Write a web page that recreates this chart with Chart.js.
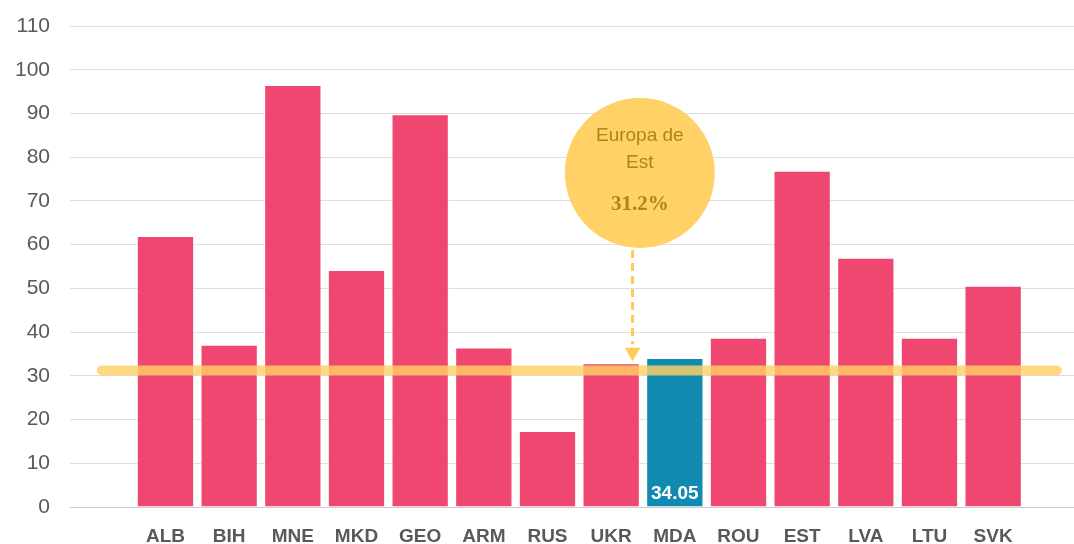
<!DOCTYPE html>
<html><head><meta charset="utf-8">
<script src="https://cdn.jsdelivr.net/npm/chart.js@4.4.0/dist/chart.umd.min.js"></script>
<style>html,body{margin:0;padding:0;background:#fff}#wrap{width:1074px;height:544px;position:relative}</style>
</head><body><div id="wrap"><canvas id="c" width="1074" height="544"></canvas></div>
<script>
// ---- data ----
const categories = ['ALB','BIH','MNE','MKD','GEO','ARM','RUS','UKR','MDA','ROU','EST','LVA','LTU','SVK'];
const values = [62.0, 37.1, 96.5, 54.2, 89.8, 36.5, 17.4, 32.9, 34.05, 38.7, 76.9, 57.0, 38.7, 50.6];
const highlightCategory = 'MDA';
const averageValue = 31.2;
const averageLines = ['Europa de', 'Est'];
const averageText = '31.2%';
const yTickValues = [0, 10, 20, 30, 40, 50, 60, 70, 80, 90, 100, 110];

// ---- annotation placement (data space) ----
const bubblePos = {x: 7.45, y: 76.4};
const arrowX = 7.336, arrowTop = 58.8, arrowBottom = 37.2, arrowHeadY = 35.4;
const lineSpan = [-1, 14];

const FONT = "'Liberation Sans', Arial, sans-serif";
const PINK = '#EF476F', BLUE = '#118AB2', YELLOW = '#FFD166';

const barData = values.map((v, i) => ({x: i, y: v}));
const barColors = categories.map(c => c === highlightCategory ? BLUE : PINK);
const barBorders = categories.map(c => c === highlightCategory ? 'rgba(255,255,255,0.25)' : 'rgba(255,255,255,0.45)');

const annotPlugin = {
  id: 'annot',
  afterDatasetsDraw(chart) {
    const ctx = chart.ctx;
    const bm = chart.getDatasetMeta(3).data[0];
    ctx.save();
    ctx.textAlign = 'center';
    ctx.textBaseline = 'middle';
    ctx.fillStyle = '#AD861A';
    ctx.font = "19px " + FONT;
    ctx.fillText(averageLines[0], bm.x, bm.y - 37);
    ctx.fillText(averageLines[1], bm.x, bm.y - 10);
    ctx.font = "bold 21px 'Liberation Serif', 'DejaVu Serif', serif";
    ctx.fillText(averageText, bm.x, bm.y + 32);
    const idx = categories.indexOf(highlightCategory);
    const bar = chart.getDatasetMeta(4).data[idx];
    ctx.fillStyle = '#ffffff';
    ctx.font = "bold 19px " + FONT;
    ctx.fillText(values[idx].toFixed(2), bar.x, bar.base - 13);
    ctx.restore();
  }
};

new Chart(document.getElementById('c'), {
  type: 'bar',
  data: {
    datasets: [
      { type: 'line', data: lineSpan.map(x => ({x, y: averageValue})),
        borderColor: 'rgba(255,209,102,0.82)', borderWidth: 10, borderCapStyle: 'round',
        pointRadius: 0, order: 0, clip: false },
      { type: 'line', data: [{x: arrowX, y: arrowTop}, {x: arrowX, y: arrowBottom}],
        borderColor: '#FFCB55', borderWidth: 3, borderDash: [8, 5], pointRadius: 0, order: 1 },
      { type: 'scatter', data: [{x: arrowX, y: arrowHeadY}], pointStyle: 'triangle', rotation: 180,
        pointRadius: 9, backgroundColor: '#FFCB55', borderWidth: 0, order: 1 },
      { type: 'scatter', data: [bubblePos], pointRadius: 75, backgroundColor: YELLOW,
        borderWidth: 0, order: 2 },
      { type: 'bar', data: barData, backgroundColor: barColors, borderColor: barBorders,
        borderWidth: 1, categoryPercentage: 1, barPercentage: 0.9, order: 5 }
    ]
  },
  options: {
    responsive: false,
    animation: false,
    devicePixelRatio: 1,
    events: [],
    layout: { autoPadding: false, padding: { top: 26, left: 0, right: 0, bottom: 0 } },
    plugins: { legend: { display: false }, tooltip: { enabled: false } },
    scales: {
      x: {
        type: 'linear', min: -1.5, max: 14.27, offset: false,
        afterBuildTicks: s => { s.ticks = categories.map((_, i) => ({value: i})); },
        afterFit: s => { s.height = 37; s.paddingLeft = 0; s.paddingRight = 0; },
        ticks: { callback: (v) => categories[v] ?? '', autoSkip: false, maxRotation: 0,
                 color: '#595959', padding: 18, font: { family: FONT, size: 19, weight: 'bold' } },
        grid: { display: false, drawTicks: false, offset: false },
        border: { display: false }
      },
      y: {
        min: 0, max: 110,
        afterBuildTicks: s => { s.ticks = yTickValues.map(v => ({value: v})); },
        afterFit: s => { s.width = 70; s.paddingTop = 0; s.paddingBottom = 0; },
        ticks: { color: '#595959', padding: 20, font: { family: FONT, size: 21 } },
        grid: { color: ctx => ctx.tick && ctx.tick.value === 0 ? '#cccccc' : '#dedede', drawTicks: false },
        border: { display: false }
      }
    }
  },
  plugins: [annotPlugin]
});
</script></body></html>
